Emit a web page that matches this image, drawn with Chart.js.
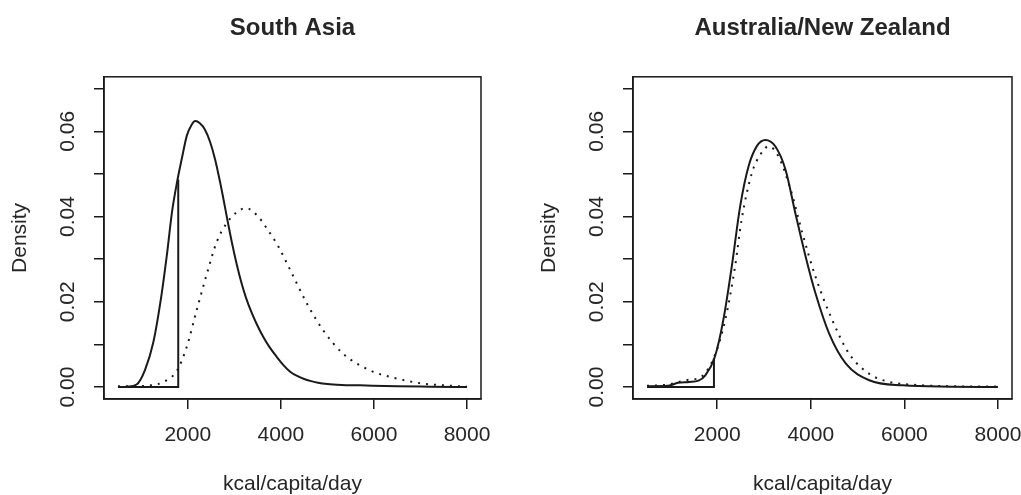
<!DOCTYPE html>
<html lang="en">
<head>
<meta charset="UTF-8">
<title>Dietary energy supply densities</title>
<script src="https://cdn.jsdelivr.net/npm/chart.js"></script>
<style>
  html, body { margin: 0; padding: 0; background: #fff; overflow: hidden; }
  body { width: 1021px; height: 495px; position: relative; }
  canvas { position: absolute; top: 0; }
  #southAsia { left: 0; }
  #anz { left: 520px; }
</style>
</head>
<body>
<canvas id="southAsia" width="585" height="495"></canvas>
<canvas id="anz" width="605" height="495"></canvas>
<script>
// axis ticks (same on both panels)
const xTicks = [2000, 4000, 6000, 8000];
const yTicks = [0, 0.01, 0.02, 0.03, 0.04, 0.05, 0.06, 0.07];
const yLabelled = [0, 0.02, 0.04, 0.06];

// South Asia - full solid density
const saSolidKcal = [500, 700, 900, 1080, 1260, 1420, 1560, 1660, 1780, 1870, 1980, 2080, 2160, 2260, 2370, 2480, 2590, 2700, 2765, 2850, 2950, 3050, 3150, 3250, 3370, 3480, 3620, 3760, 3910, 4060, 4200, 4350, 4500, 4650, 4800, 5000, 5300, 5700, 6500, 7200, 8000];
const saSolidDensity = [0, 0.0001, 0.0006, 0.0040, 0.0105, 0.0205, 0.0318, 0.0410, 0.0487, 0.0535, 0.0590, 0.0615, 0.0624, 0.0619, 0.0604, 0.0575, 0.0533, 0.0478, 0.0442, 0.0393, 0.0338, 0.0289, 0.0246, 0.0210, 0.0175, 0.0148, 0.0118, 0.0093, 0.0071, 0.0051, 0.0036, 0.0026, 0.0019, 0.0014, 0.0010, 0.0007, 0.0005, 0.0004, 0.0002, 0.0001, 0];
// South Asia - truncated part (zero below the cut, then jumps onto the solid curve)
const saTruncKcal = [500, 1795, 1795];
const saTruncDensity = [0, 0, 0.0487];
// South Asia - dotted density
const saDotKcal = [500, 800, 1200, 1500, 1770, 1980, 2190, 2400, 2620, 2840, 3050, 3250, 3480, 3700, 3950, 4200, 4560, 4910, 5340, 5920, 6490, 7060, 7500, 8000];
const saDotDensity = [0.0002, 0.0002, 0.0004, 0.0013, 0.0039, 0.0095, 0.0180, 0.0262, 0.0340, 0.0385, 0.0410, 0.0420, 0.0404, 0.0372, 0.0329, 0.0275, 0.0196, 0.0133, 0.0078, 0.0039, 0.0020, 0.0008, 0.0004, 0.0001];

// Australia/New Zealand
const anzSolidKcal = [500, 950, 1160, 1400, 1600, 1750, 1950, 2130, 2310, 2490, 2670, 2850, 3030, 3240, 3460, 3670, 3890, 4100, 4390, 4750, 5250, 5970, 7000, 8000];
const anzSolidDensity = [0.0002, 0.0003, 0.0010, 0.0012, 0.0015, 0.0028, 0.0071, 0.0157, 0.0282, 0.0424, 0.0518, 0.0566, 0.0580, 0.0565, 0.0510, 0.0408, 0.0306, 0.0220, 0.0126, 0.0055, 0.0016, 0.0004, 0.0001, 0];
const anzTruncKcal = [500, 1930, 1930];
const anzTruncDensity = [0, 0, 0.0068];
const anzDotKcal = [500, 950, 1380, 1660, 1950, 2170, 2380, 2520, 2740, 2920, 3100, 3310, 3570, 3820, 4100, 4460, 4820, 5250, 5680, 6110, 7000, 8000];
const anzDotDensity = [0.0003, 0.0006, 0.0017, 0.0024, 0.0075, 0.0157, 0.0282, 0.0392, 0.0502, 0.0545, 0.0565, 0.0541, 0.0463, 0.0361, 0.0259, 0.0157, 0.0078, 0.0031, 0.0012, 0.0006, 0.0002, 0.0001];

const INK = '#1a1a1a';
const TXT = '#262626';
Chart.defaults.font.family = "'Liberation Sans', Arial, sans-serif";

const toPoints = (xs, ys) => xs.map((x, i) => ({ x: x, y: ys[i] }));

// R-style closed box around the plot region
const boxPlugin = {
    id: 'box',
    afterDraw(chart) {
        const { ctx, chartArea: a } = chart;
        ctx.save();
        ctx.strokeStyle = INK;
        ctx.lineWidth = 1.5;
        ctx.strokeRect(a.left, a.top, a.right - a.left, a.bottom - a.top);
        ctx.restore();
    }
};

// side = width of the left axis and of the empty right spacer, so the
// canvas centre (where the title goes) is the centre of the plot box
function makePanel(id, title, solid, trunc, dotted, side) {
    const axisLine = { drawOnChartArea: false, tickLength: 10, color: INK, lineWidth: 1.5 };
    return new Chart(document.getElementById(id), {
        type: 'line',
        data: {
            datasets: [
                { data: solid, borderColor: INK, borderWidth: 2, cubicInterpolationMode: 'monotone' },
                { data: trunc, borderColor: INK, borderWidth: 2, tension: 0 },
                { data: dotted, borderColor: INK, borderWidth: 2, borderDash: [2, 6], cubicInterpolationMode: 'monotone' }
            ]
        },
        options: {
            responsive: false,
            animation: false,
            events: [],
            elements: { point: { radius: 0 } },
            layout: { padding: 0 },
            plugins: {
                legend: { display: false },
                tooltip: { enabled: false },
                title: {
                    display: true, text: title, color: TXT,
                    font: { size: 24, weight: 'bold' },
                    padding: { top: 14, bottom: 34 }
                }
            },
            scales: {
                x: {
                    type: 'linear', min: 200, max: 8300,
                    afterBuildTicks: s => { s.ticks = xTicks.map(v => ({ value: v })); },
                    afterFit: s => { s.height = 96; s.paddingLeft = 0; s.paddingRight = 0; },
                    grid: axisLine,
                    border: { color: INK, width: 1.5 },
                    ticks: { color: TXT, font: { size: 21 }, padding: 14, maxRotation: 0, autoSkip: false, callback: v => String(v) },
                    title: { display: true, text: 'kcal/capita/day', color: TXT, font: { size: 21, lineHeight: 1 }, padding: 0 }
                },
                y: {
                    type: 'linear', min: -0.0028, max: 0.0728,
                    afterBuildTicks: s => { s.ticks = yTicks.map(v => ({ value: v })); },
                    afterFit: s => { s.width = side; s.paddingTop = 0; s.paddingBottom = 0; },
                    grid: axisLine,
                    border: { color: INK, width: 1.5 },
                    ticks: {
                        color: TXT, font: { size: 21 }, padding: 5, autoSkip: false,
                        minRotation: 90, maxRotation: 90, crossAlign: 'center',
                        callback: v => yLabelled.includes(v) ? v.toFixed(2) : ''
                    },
                    title: { display: true, text: 'Density', color: TXT, font: { size: 21, lineHeight: 1 }, padding: { top: side - 94.5, bottom: 0 } }
                },
                spacer: {
                    type: 'linear', position: 'right',
                    grid: { display: false }, border: { display: false }, ticks: { display: false },
                    afterFit: s => { s.width = side; }
                }
            }
        },
        plugins: [boxPlugin]
    });
}

makePanel('southAsia', 'South Asia',
    toPoints(saSolidKcal, saSolidDensity),
    toPoints(saTruncKcal, saTruncDensity),
    toPoints(saDotKcal, saDotDensity), 104);

makePanel('anz', 'Australia/New Zealand',
    toPoints(anzSolidKcal, anzSolidDensity),
    toPoints(anzTruncKcal, anzTruncDensity),
    toPoints(anzDotKcal, anzDotDensity), 113);
</script>
</body>
</html>
